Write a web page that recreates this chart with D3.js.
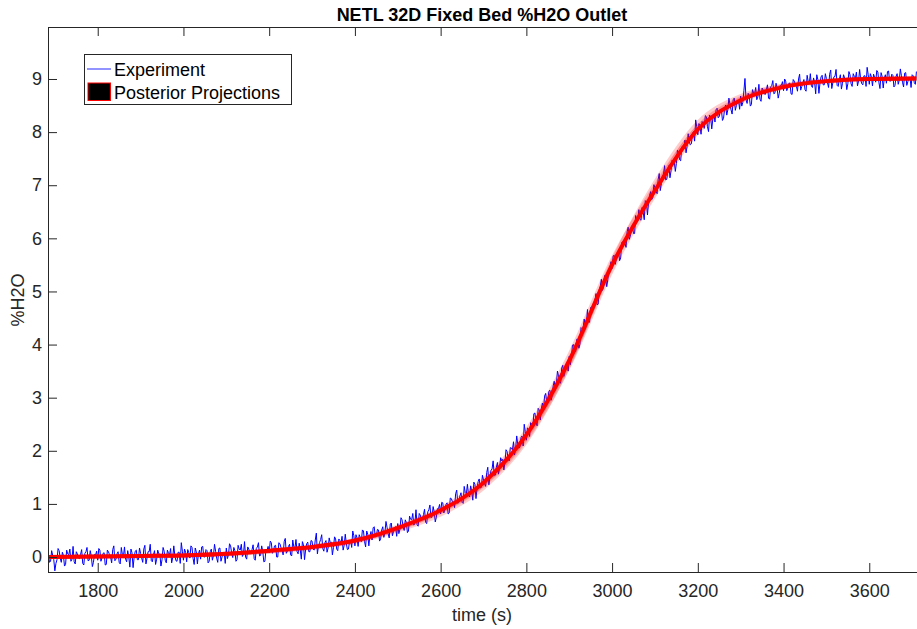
<!DOCTYPE html>
<html><head><meta charset="utf-8">
<script src="https://cdn.jsdelivr.net/npm/d3@7"></script>
<style>
body{margin:0;background:#fff;}
text{font-family:Arial,"Liberation Sans",Helvetica,sans-serif;}
</style>
</head><body>
<svg id="c" width="917" height="629"></svg>
<script>
// ---- data ----
// experiment samples: series A at t = 1685 + 5i, series B at t = 1687.5 + 5i
const expStartA = 1685, expStartB = 1687.5, expStep = 5;
const expValuesA = [
 0.06,-0.08,0.03,
 -0.26,-0.05,0.12,-0.1,0.03,-0.14,0.06,0.15,-0.04,-0.09,0.1,-0.02,0.05,-0.12,0.07,0.18,-0.06,0.02,-0.1,0.04,
 -0.06,0.13,-0.01,0.08,-0.14,0.1,0.0,0.14,-0.07,0.06,-0.1,0.18,0.02,-0.04,0.12,-0.19,0.08,0.0,0.13,-0.05,
 0.07,-0.1,0.22,-0.02,0.1,-0.07,0.04,-0.14,0.13,0.05,-0.05,0.11,-0.11,0.08,0.16,-0.01,0.02,-0.08,0.09,0.27,
 -0.06,0.09,0.14,-0.02,0.18,-0.14,0.1,0.06,-0.04,0.2,0.0,0.12,-0.08,0.15,0.03,0.11,-0.1,0.17,0.0,0.08,
 0.17,0.04,0.21,-0.01,0.12,-0.05,0.15,0.24,0.05,0.0,0.19,0.07,0.14,-0.03,0.16,0.27,0.03,0.11,-0.08,0.13,
 0.08,0.27,0.12,0.22,0.0,0.25,0.14,0.29,0.07,0.2,0.04,0.32,0.16,0.1,0.26,-0.04,0.23,0.14,0.28,0.1,
 0.3,0.13,0.45,0.21,0.33,0.16,0.27,0.09,0.36,0.28,0.18,0.34,0.12,0.31,0.39,0.22,0.25,0.15,0.32,0.49,
 0.21,0.36,0.42,0.29,0.49,0.19,0.43,0.4,0.32,0.57,0.39,0.51,0.34,0.57,0.46,0.56,0.36,0.64,0.48,0.57,
 0.63,0.52,0.70,0.50,0.65,0.49,0.71,0.82,0.64,0.61,0.82,0.71,0.80,0.65,0.85,0.98,0.76,0.85,0.75,0.91,
 0.81,1.02,0.90,1.02,0.83,1.10,1.03,1.19,1.01,1.15,1.03,1.33,1.19,1.17,1.34,1.07,1.37,1.30,1.47,1.31,
 1.45,1.33,1.69,1.50,1.66,1.54,1.69,1.56,1.87,1.84,1.78,1.99,1.81,2.05,2.17,2.05,2.12,2.07,2.28,2.50,
 2.20,2.41,2.53,2.45,2.71,2.47,2.77,2.80,2.78,3.08,2.96,3.14,3.02,3.31,3.26,3.41,3.27,3.61,3.51,3.66,
 3.78,3.74,4.00,3.87,4.09,4.01,4.30,4.48,4.38,4.42,4.70,4.67,4.83,4.75,5.03,5.23,5.08,5.25,5.22,5.45,
 5.43,5.68,5.61,5.77,5.63,5.94,5.91,6.12,5.98,6.17,6.09,6.43,6.34,6.36,6.58,6.35,6.69,6.67,6.88,6.77,
 6.95,6.84,7.22,7.03,7.21,7.10,7.27,7.14,7.47,7.45,7.41,7.62,7.46,7.71,7.85,7.73,7.82,7.78,8.01,8.23,
 7.95,8.12,8.20,8.07,8.29,8.01,8.27,8.25,8.19,8.45,8.29,8.42,8.26,8.51,8.42,8.52,8.34,8.64,8.50,8.60,
 8.68,8.56,9.01,8.54,8.68,8.52,8.74,8.84,8.66,8.62,8.83,8.72,8.80,8.64,8.85,8.97,8.74,8.83,8.73,8.88,
 8.78,8.96,8.83,8.92,8.71,8.96,8.86,9.00,8.79,8.92,8.80,9.07,8.91,8.87,9.02,8.72,8.99,8.92,9.07,8.89,
 9.01,8.84,9.17,8.93,9.05,8.88,8.99,8.81,9.08,9.00,8.91,9.08,8.86,9.05,9.13,8.96,8.99,8.89,9.06,9.22,
 8.90,9.04,9.09,8.94,9.13,8.82,9.05,9.01,8.92,9.15,8.96,9.07,8.88,9.10,8.98,9.06,8.85,9.12,8.95,9.03,
 9.08,8.93,9.14
];
const expValuesB = [
 -0.1,0.12,-0.05,
 -0.12,0.16,-0.02,0.09,-0.17,0.13,0.04,-0.08,0.2,-0.13,0.06,-0.03,0.14,-0.15,0.1,-0.07,0.12,-0.18,0.05,0.11,
 0.16,-0.08,0.07,-0.15,0.13,0.04,-0.11,0.21,-0.04,0.1,-0.13,0.05,0.19,-0.09,0.0,0.15,-0.2,0.11,-0.05,0.17,
 -0.02,0.15,-0.13,0.1,0.24,-0.09,0.12,-0.04,0.06,-0.17,0.18,-0.06,0.13,0.04,-0.11,0.21,-0.07,0.09,-0.12,0.11,
 0.15,-0.09,0.08,0.21,-0.03,0.17,-0.13,0.13,0.19,0.0,0.14,-0.11,0.1,-0.06,0.24,-0.02,0.16,-0.08,0.07,-0.12,
 -0.03,0.25,0.07,0.18,-0.08,0.22,0.13,0.01,0.29,-0.04,0.15,0.06,0.23,-0.06,0.19,0.02,0.21,-0.09,0.14,0.2,
 0.3,0.07,0.21,0.0,0.27,0.18,0.04,0.35,0.11,0.24,0.02,0.19,0.33,0.06,0.14,0.29,-0.05,0.25,0.1,0.31,
 0.15,0.32,0.06,0.27,0.42,0.11,0.31,0.17,0.27,0.04,0.38,0.15,0.34,0.26,0.13,0.43,0.14,0.30,0.18,0.40,
 0.42,0.20,0.37,0.51,0.29,0.49,0.21,0.48,0.55,0.38,0.52,0.30,0.51,0.37,0.67,0.44,0.62,0.40,0.55,0.39,
 0.44,0.74,0.57,0.70,0.46,0.77,0.70,0.60,0.89,0.58,0.79,0.71,0.90,0.63,0.89,0.74,0.95,0.66,0.91,0.99,
 1.03,0.83,0.99,0.81,1.11,1.04,0.93,1.26,1.05,1.21,1.01,1.21,1.37,1.13,1.24,1.41,1.10,1.42,1.30,1.54,
 1.38,1.59,1.36,1.63,1.81,1.54,1.78,1.68,1.81,1.64,2.02,1.84,2.06,2.02,1.92,2.28,2.05,2.25,2.09,2.36,
 2.43,2.27,2.50,2.70,2.54,2.80,2.58,2.90,3.03,2.92,3.12,2.95,3.22,3.14,3.50,3.32,3.56,3.40,3.61,3.50,
 3.62,3.99,3.90,4.10,3.93,4.32,4.32,4.29,4.66,4.42,4.70,4.70,4.96,4.76,5.10,5.02,5.30,5.09,5.41,5.56,
 5.67,5.51,5.72,5.58,5.92,5.90,5.83,6.21,6.04,6.24,6.09,6.33,6.54,6.34,6.49,6.71,6.44,6.81,6.73,7.01,
 6.89,7.11,6.90,7.17,7.37,7.11,7.37,7.27,7.42,7.26,7.66,7.48,7.72,7.69,7.61,7.97,7.76,7.97,7.83,8.10,
 8.16,7.96,8.15,8.31,8.10,8.32,8.06,8.34,8.42,8.27,8.43,8.22,8.44,8.32,8.64,8.42,8.61,8.41,8.58,8.43,
 8.49,8.78,8.61,8.73,8.49,8.80,8.72,8.61,8.90,8.58,8.79,8.71,8.89,8.62,8.88,8.72,8.92,8.64,8.88,8.95,
 9.00,8.78,8.92,8.72,8.99,8.90,8.77,9.09,8.86,8.99,8.77,8.95,9.10,8.84,8.93,9.08,8.73,9.04,8.89,9.10,
 8.93,9.09,8.82,9.04,9.18,8.86,9.08,8.92,9.02,8.80,9.14,8.91,9.10,9.01,8.87,9.18,8.91,9.06,8.86,9.08,
 9.10,8.87,9.03,9.16,8.93,9.12,8.83,9.08,9.14,8.96,9.09,8.85,9.05,8.90,9.19,8.94,9.11,8.88,9.02,8.84,
 9.06,8.90
];
const postTimes = [1684,1800,1900,2000,2100,2200,2300,2400,2500,2600,2700,2800,2900,3000,3100,3200,3300,3400,3500,3600,3710];
const postMean  = [0.0,0.01,0.02,0.03,0.06,0.12,0.19,0.31,0.55,0.88,1.40,2.30,3.70,5.50,6.90,8.05,8.60,8.85,8.96,9.00,9.01];
const postA     = [0.0,0.01,0.02,0.03,0.06,0.12,0.20,0.32,0.57,0.91,1.45,2.38,3.80,5.60,6.98,8.09,8.62,8.86,8.96,9.00,9.01];
const postB     = [0.0,0.01,0.02,0.03,0.06,0.11,0.18,0.30,0.53,0.85,1.35,2.22,3.60,5.40,6.82,8.00,8.57,8.84,8.95,9.00,9.01];
const postC     = [0.0,0.01,0.02,0.03,0.05,0.10,0.17,0.28,0.50,0.80,1.30,2.18,3.62,5.55,7.05,8.18,8.68,8.88,8.97,9.00,9.01];
const postD     = [0.0,0.01,0.02,0.03,0.06,0.11,0.19,0.30,0.53,0.86,1.37,2.26,3.66,5.48,6.93,8.10,8.64,8.87,8.96,9.00,9.01];
const xTicks = [1800,2000,2200,2400,2600,2800,3000,3200,3400,3600];
const yTicks = [0,1,2,3,4,5,6,7,8,9];

// ---- layout ----
const L = 48, R = 916, T = 27, B = 572;
const svg = d3.select("#c");
const x = d3.scaleLinear().domain([1684, 3709]).range([L, R]);
const y = d3.scaleLinear().domain([-0.282, 9.979]).range([B, T]);
const axisColor = "#262626";

svg.append("defs").append("clipPath").attr("id","clip")
  .append("rect").attr("x",L).attr("y",T).attr("width",917-L).attr("height",B-T);

const plot = svg.append("g").attr("clip-path","url(#clip)");

const expData = expValuesA.map((v,i)=>[expStartA+i*expStep, v])
  .concat(expValuesB.map((v,i)=>[expStartB+i*expStep, v]))
  .sort((a,b)=>a[0]-b[0]);
const lineExp = d3.line().x(d=>x(d[0])).y(d=>y(d[1]));
plot.append("path").datum(expData).attr("d",lineExp)
  .attr("fill","none").attr("stroke","#0000ff").attr("stroke-width",1);

const lineP = d3.line().x(d=>x(d[0])).y(d=>y(d[1])).curve(d3.curveMonotoneX);
[postA,postB,postC,postD].forEach(arr=>{
  plot.append("path").datum(postTimes.map((t,i)=>[t,arr[i]])).attr("d",lineP)
    .attr("fill","none").attr("stroke","#ff0000").attr("stroke-opacity",0.2).attr("stroke-width",4);
});
plot.append("path").datum(postTimes.map((t,i)=>[t,postMean[i]])).attr("d",lineP)
  .attr("fill","none").attr("stroke","#ff0000").attr("stroke-width",4);

// ---- axes ----
const gx = svg.append("g").attr("transform",`translate(0,${B})`)
  .call(d3.axisBottom(x).tickValues(xTicks).tickFormat(d3.format("d")).tickSizeInner(-9).tickSizeOuter(0).tickPadding(12));
const gxt = svg.append("g").attr("transform",`translate(0,${T})`)
  .call(d3.axisTop(x).tickValues(xTicks).tickFormat("").tickSizeInner(-9).tickSizeOuter(0));
const gy = svg.append("g").attr("transform",`translate(${L},0)`)
  .call(d3.axisLeft(y).tickValues(yTicks).tickSizeInner(-9).tickSizeOuter(0).tickPadding(6));
[gx,gxt,gy].forEach(g=>{
  g.select(".domain").remove();
  g.selectAll(".tick line").attr("stroke",axisColor);
  g.selectAll(".tick text").attr("fill",axisColor).style("font-size","18px")
    .style("font-family","Arial,'Liberation Sans',Helvetica,sans-serif");
});
// box lines
svg.append("line").attr("x1",L+0.5).attr("x2",L+0.5).attr("y1",T).attr("y2",B+0.5).attr("stroke",axisColor);
svg.append("line").attr("x1",L).attr("x2",917).attr("y1",B+0.5).attr("y2",B+0.5).attr("stroke",axisColor);
svg.append("line").attr("x1",L).attr("x2",917).attr("y1",T+0.5).attr("y2",T+0.5).attr("stroke",axisColor);

// ---- labels ----
svg.append("text").attr("x",482).attr("y",21).attr("text-anchor","middle")
  .style("font-size","18px").style("font-weight","bold").attr("fill","#000")
  .text("NETL 32D Fixed Bed %H2O Outlet");
svg.append("text").attr("x",482).attr("y",621).attr("text-anchor","middle")
  .style("font-size","18px").attr("fill",axisColor).text("time (s)");
svg.append("text").attr("transform","translate(24,300) rotate(-90)").attr("text-anchor","middle")
  .style("font-size","18px").attr("fill",axisColor).text("%H2O");

// ---- legend ----
const lg = svg.append("g");
lg.append("rect").attr("x",84.5).attr("y",54.5).attr("width",207).attr("height",50)
  .attr("fill","#fff").attr("stroke",axisColor).attr("stroke-width",1);
lg.append("line").attr("x1",87).attr("x2",111).attr("y1",69).attr("y2",69)
  .attr("stroke","#6f6fff").attr("stroke-width",1.5);
lg.append("text").attr("x",114).attr("y",75.5).style("font-size","18px").attr("fill","#000").text("Experiment");
lg.append("rect").attr("x",88).attr("y",83).attr("width",22.5).attr("height",17.5)
  .attr("fill","#000").attr("stroke","#ff0000").attr("stroke-width",1);
lg.append("text").attr("x",114).attr("y",98.5).style("font-size","18px").attr("fill","#000").text("Posterior Projections");
</script>
</body></html>
